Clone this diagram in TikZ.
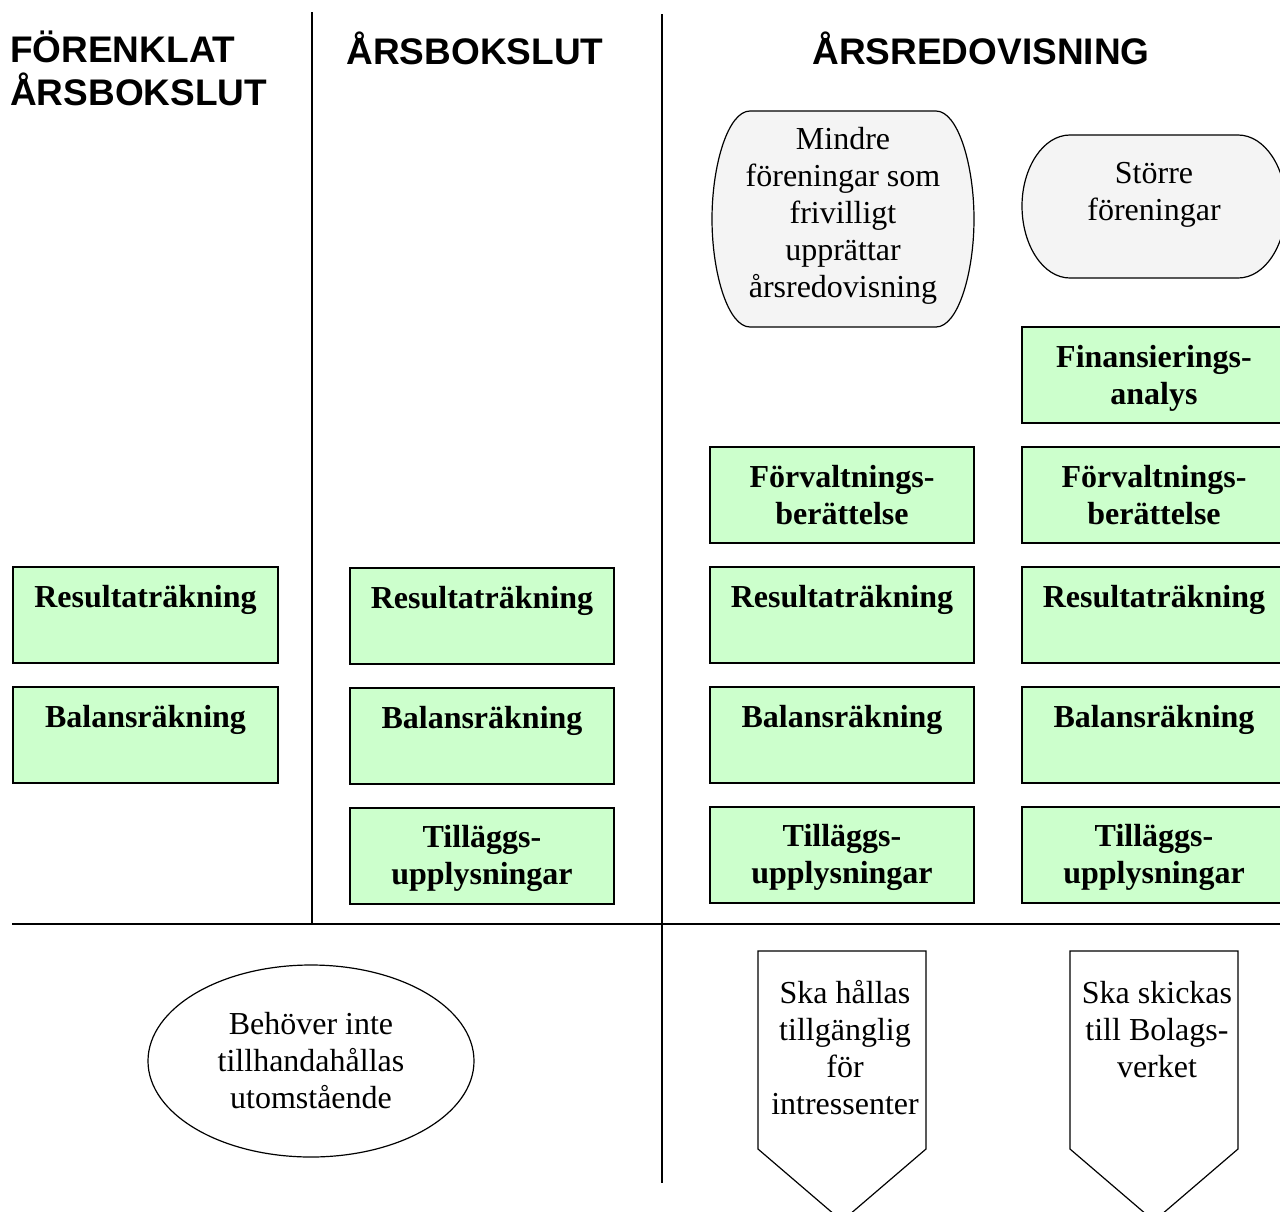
\documentclass[tikz,border=0pt]{standalone}
\usepackage{fontspec}
\setmainfont{Liberation Serif}
\newfontfamily\headfont{Liberation Sans}
\usetikzlibrary{shapes.geometric}
\definecolor{boxgreen}{HTML}{CCFFCC}
\definecolor{softgray}{HTML}{F4F4F4}
\newcommand\tstr{\rule{0pt}{28pt}}
\newcommand\bstr{\rule[-7pt]{0pt}{7pt}}
\begin{document}
\begin{tikzpicture}[x=1pt,y=-1pt,
  docbox/.style={draw=black, line width=1.5pt, fill=boxgreen, minimum width=264pt, minimum height=96pt, inner sep=0pt, align=center, font=\fontsize{32}{37}\selectfont\bfseries},
  headtext/.style={inner sep=0pt, font=\headfont\fontsize{37}{43}\selectfont\bfseries},
  plaintext/.style={align=center, inner sep=0pt, font=\fontsize{32}{37}\selectfont},
  sepline/.style={line width=1.5pt},
  outline/.style={draw=black, line width=1.2pt}
]
\useasboundingbox (0,0) rectangle (1280,1211);
\clip (0,0) rectangle (1280,1211);

% separators
\draw[sepline] (312,12) -- (312,924);
\draw[sepline] (662,14) -- (662,1183);
\draw[sepline] (12,924) -- (1280,924);

% headings
\node[headtext, anchor=base west] (h1a) at (10,62) {FÖRENKLAT};
\node[headtext, anchor=base west] (h1b) at (10,105) {ÅRSBOKSLUT};
\node[headtext, anchor=base] (h2) at (475,64) {ÅRSBOKSLUT};
\node[headtext, anchor=base] (h3) at (981,64) {ÅRSREDOVISNING};

% column A
\node[docbox, minimum width=265pt] (aRes) at (145.5,615) {Resultaträkning\tstr\\\bstr};
\node[docbox, minimum width=265pt] (aBal) at (145.5,735) {Balansräkning\tstr\\\bstr};

% column B
\node[docbox] (bRes) at (482,616) {Resultaträkning\tstr\\\bstr};
\node[docbox] (bBal) at (482,736) {Balansräkning\tstr\\\bstr};
\node[docbox] (bTil) at (482,856) {Tilläggs-\tstr\\upplysningar\bstr};

% column C
\node[docbox] (cFor) at (842,495) {Förvaltnings-\tstr\\berättelse\bstr};
\node[docbox] (cRes) at (842,615) {Resultaträkning\tstr\\\bstr};
\node[docbox] (cBal) at (842,735) {Balansräkning\tstr\\\bstr};
\node[docbox] (cTil) at (842,855) {Tilläggs-\tstr\\upplysningar\bstr};

% column D
\node[docbox] (dFin) at (1154,375) {Finansierings-\tstr\\analys\bstr};
\node[docbox] (dFor) at (1154,495) {Förvaltnings-\tstr\\berättelse\bstr};
\node[docbox] (dRes) at (1154,615) {Resultaträkning\tstr\\\bstr};
\node[docbox] (dBal) at (1154,735) {Balansräkning\tstr\\\bstr};
\node[docbox] (dTil) at (1154,855) {Tilläggs-\tstr\\upplysningar\bstr};

% rounded shapes
\draw[outline, fill=softgray] (750,111) -- (936,111)
  .. controls (958,111) and (974,165) .. (974,219)
  .. controls (974,273) and (958,327) .. (936,327) -- (750,327)
  .. controls (728,327) and (712,273) .. (712,219)
  .. controls (712,165) and (728,111) .. (750,111) -- cycle;
\node[plaintext] (mindre) at (843,216) {Mindre\\föreningar som\\frivilligt\\upprättar\\årsredovisning};

\draw[outline, fill=softgray] (1070,135) -- (1238,135)
  .. controls (1265,135) and (1286,168) .. (1286,206)
  .. controls (1286,245) and (1265,278) .. (1238,278) -- (1070,278)
  .. controls (1043,278) and (1022,245) .. (1022,206)
  .. controls (1022,168) and (1043,135) .. (1070,135) -- cycle;
\node[plaintext] (storre) at (1154,195) {Större\\föreningar};

% ellipse
\node[ellipse, outline, minimum width=326pt, minimum height=192pt, inner sep=0pt, align=center, font=\fontsize{32}{37}\selectfont] (behover) at (311,1061) {Behöver inte\\tillhandahållas\\utomstående};

% pentagon arrows
\draw[outline] (758,951) -- (926,951) -- (926,1149) -- (842,1221) -- (758,1149) -- cycle;
\node[plaintext] (halla) at (845,1048) {Ska hållas\\tillgänglig\\för\\intressenter};

\draw[outline] (1070,951) -- (1238,951) -- (1238,1149) -- (1154,1221) -- (1070,1149) -- cycle;
\node[plaintext] (skicka) at (1157,1030) {Ska skickas\\till Bolags-\\verket};
\end{tikzpicture}
\end{document}
